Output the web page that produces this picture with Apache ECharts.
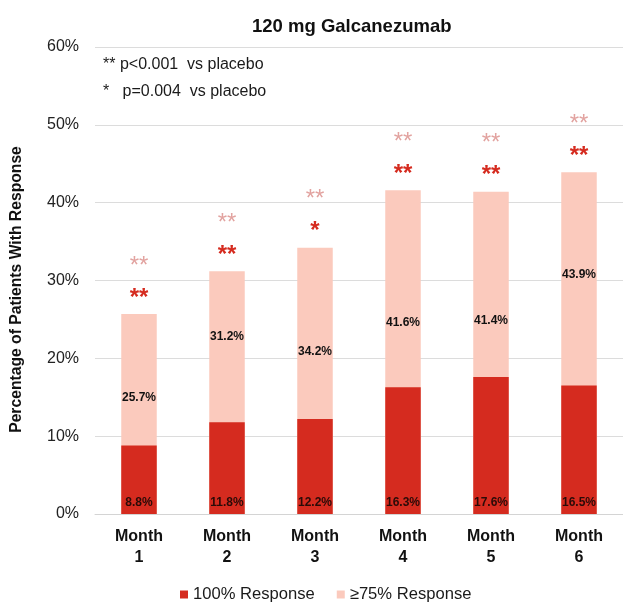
<!DOCTYPE html>
<html>
<head>
<meta charset="utf-8">
<script src="https://cdn.jsdelivr.net/npm/echarts@6/dist/echarts.min.js"></script>
<style>
html,body{margin:0;padding:0;background:#fff;}
#chart{width:623px;height:603px;}
</style>
</head>
<body>
<div id="chart"></div>
<script>
// ---- data ----
const categories = ['Month 1', 'Month 2', 'Month 3', 'Month 4', 'Month 5', 'Month 6'];
const response100 = [8.8, 11.8, 12.2, 16.3, 17.6, 16.5];
const response75 = [25.7, 31.2, 34.2, 41.6, 41.4, 43.9];
const sig100 = ['**', '**', '*', '**', '**', '**'];
const sig75 = ['**', '**', '**', '**', '**', '**'];
const yTicks = [0, 10, 20, 30, 40, 50, 60];
const seriesNames = ['100% Response', '\u226575% Response'];
const titleText = '120 mg Galcanezumab';
const noteText = '** p<0.001  vs placebo\n*   p=0.004  vs placebo';
const yAxisTitle = 'Percentage of Patients With Response';

// ---- styles ----
const FONT = "'Liberation Sans', Arial, sans-serif";
const DARK = '#d52b1f';
const PINK = '#fbcabd';
// vertical placement of the >=75% value label inside each bar (fraction from bar top)
const labelFromTop = ['42%', '27%', '39%', '41%', '40%', '30%'];

const chart = echarts.init(document.getElementById('chart'), null, {renderer: 'canvas'});
chart.setOption({
  animation: false,
  textStyle: {fontFamily: FONT},
  title: [
    {text: titleText, left: 247, top: 12,
     textStyle: {fontFamily: FONT, fontSize: 18.5, fontWeight: 'bold', color: '#111'}},
    {text: noteText, left: 98, top: 46,
     textStyle: {fontFamily: FONT, fontSize: 16, fontWeight: 'normal', color: '#1a1a1a', lineHeight: 27}}
  ],
  legend: {
    data: seriesNames,
    top: 581,
    left: 175,
    icon: 'rect',
    itemWidth: 8,
    itemHeight: 8,
    itemGap: 22,
    textStyle: {fontFamily: FONT, fontSize: 16.6, color: '#1a1a1a'}
  },
  grid: {left: 95, right: 0, top: 47, bottom: 89, containLabel: false},
  xAxis: {
    type: 'category',
    data: categories,
    axisLine: {lineStyle: {color: '#d4d4d4'}},
    axisTick: {show: false},
    axisLabel: {
      margin: 12,
      fontFamily: FONT, fontSize: 16, fontWeight: 'bold', color: '#111', lineHeight: 21,
      formatter: v => v.replace(' ', '\n')
    }
  },
  yAxis: {
    type: 'value',
    min: yTicks[0],
    max: yTicks[yTicks.length - 1],
    interval: 10,
    axisLine: {show: false},
    axisTick: {show: false},
    splitLine: {lineStyle: {color: '#dcdcdc', width: 1}},
    axisLabel: {margin: 16, fontFamily: FONT, fontSize: 16, color: '#222', formatter: '{value}%'},
    name: yAxisTitle,
    nameLocation: 'middle',
    nameRotate: 90,
    nameGap: 70,
    nameTextStyle: {fontFamily: FONT, fontSize: 15.7, fontWeight: 'bold', color: '#111', padding: [0, 18, 0, 0]}
  },
  series: [
    {
      name: seriesNames[1],
      type: 'bar',
      data: response75.map((v, i) => ({
        value: v,
        label: {position: ['50%', labelFromTop[i]]}
      })),
      barWidth: 35.5,
      barGap: '-100%',
      itemStyle: {color: PINK},
      label: {
        show: true,
        align: 'center',
        verticalAlign: 'middle',
        formatter: p => p.value + '%',
        fontFamily: FONT, fontSize: 12, fontWeight: 'bold', color: '#111'
      },
      z: 2
    },
    {
      name: seriesNames[0],
      type: 'bar',
      data: response100,
      barWidth: 35.5,
      barGap: '-100%',
      itemStyle: {color: DARK},
      label: {
        show: true,
        position: 'insideBottom',
        distance: 5,
        formatter: p => p.value.toFixed(1) + '%',
        fontFamily: FONT, fontSize: 12, fontWeight: 'bold', color: '#2a0b08'
      },
      z: 3
    },
    {
      name: 'stars',
      type: 'bar',
      data: response75,
      barWidth: 35.5,
      barGap: '-100%',
      itemStyle: {color: 'rgba(0,0,0,0)'},
      silent: true,
      label: {
        show: true,
        position: 'top',
        distance: 0,
        formatter: p => '{p|' + sig75[p.dataIndex] + '}\n{r|' + sig100[p.dataIndex] + '}',
        rich: {
          p: {fontFamily: FONT, fontSize: 24, color: '#e2a3a0', lineHeight: 32, align: 'center'},
          r: {fontFamily: FONT, fontSize: 24, fontWeight: 'bold', color: DARK, lineHeight: 32, align: 'center'}
        }
      },
      z: 1
    }
  ]
});
</script>
</body>
</html>
